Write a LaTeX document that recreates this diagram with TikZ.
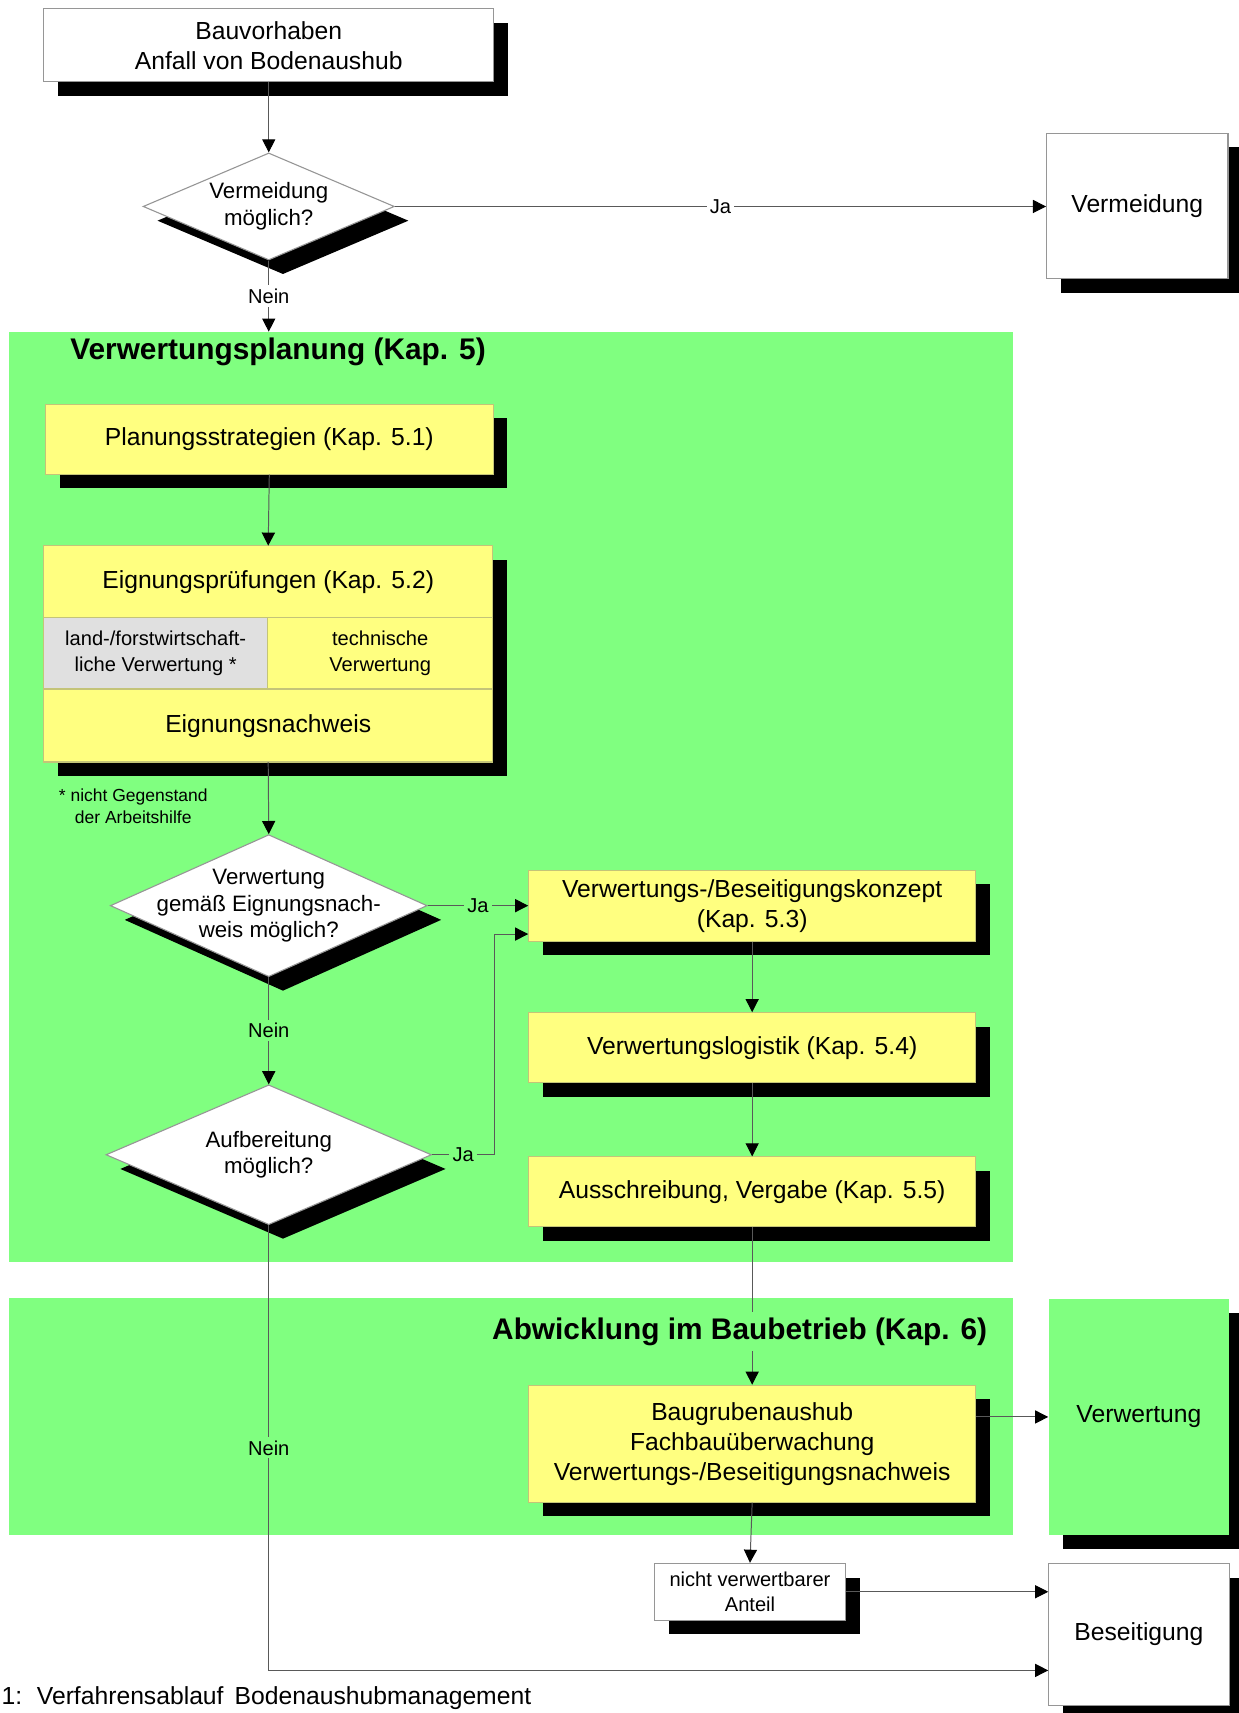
\documentclass[tikz,border=0pt]{standalone}
\usepackage{fontspec}
\setmainfont{Liberation Sans}
\usetikzlibrary{shapes,arrows.meta,positioning,shadows,calc}
\definecolor{gruen}{RGB}{128,255,128}
\definecolor{gelb}{RGB}{255,255,128}
\definecolor{grau}{RGB}{224,224,224}
\definecolor{rand}{RGB}{150,150,150}
\definecolor{gelbrand}{RGB}{196,196,120}
\newcommand{\schrift}{\fontsize{11.3}{13.75}\selectfont}
\newcommand{\rauteschrift}{\fontsize{10.2}{12.2}\selectfont}
\newcommand{\kleinschrift}{\fontsize{9.2}{11.5}\selectfont}
\newcommand{\titelschrift}{\fontsize{13.65}{16}\selectfont\bfseries}
\newcommand{\fussschrift}{\fontsize{8}{10}\selectfont}
\tikzstyle{schatten} = [drop shadow={shadow xshift=6.5pt, shadow yshift=-6.5pt, fill=black, opacity=1}]
\tikzstyle{kasten} = [rectangle, draw=rand, fill=white, line width=0.5pt, inner sep=2pt, align=center, font=\schrift, schatten]
\tikzstyle{gelbkasten} = [kasten, draw=gelbrand, fill=gelb]
\tikzstyle{zelle} = [rectangle, draw=gelbrand, fill=gelb, line width=0.5pt, outer sep=0pt, inner sep=2pt, align=center, font=\schrift]
\tikzstyle{raute} = [diamond, draw=rand, fill=white, line width=0.5pt, inner sep=0pt, schatten]
\tikzstyle{rautetext} = [align=center, font=\rauteschrift]
\tikzstyle{bereich} = [rectangle, fill=gruen, inner sep=0pt]
\tikzstyle{pfeil} = [draw=black!65, line width=0.45pt, -{Triangle[length=6pt,width=6pt,color=black]}]
\tikzstyle{marke} = [fill=gruen, inner sep=1.5pt, font=\kleinschrift]
\begin{document}
\begin{tikzpicture}[x=0.5pt, y=-0.5pt]
\useasboundingbox (0,0) rectangle (1134,1568);
% gruene Bereiche
\node[bereich, minimum width=459.5pt, minimum height=425.5pt] (p1) at (467.5,729.5) {};
\node[bereich, minimum width=459.5pt, minimum height=108.5pt] (p2) at (467.5,1296.5) {};

\node[kasten, minimum width=206pt, minimum height=33.5pt] (start) at (246,41.5) {Bauvorhaben\\Anfall von Bodenaushub};
\node[raute, minimum width=115pt, minimum height=49pt, label={[rautetext]center:Vermeidung\\möglich?}] (dec1) at (246,189) {};
\node[kasten, minimum width=83pt, minimum height=66.5pt] (verm) at (1041,188.5) {Vermeidung};

\node[gelbkasten, minimum width=205pt, minimum height=32pt] (plan) at (246.5,402) {Planungsstrategien (Kap. 5.1)};

% Eignungspruefungen
\node[gelbkasten, minimum width=205.5pt, minimum height=98.5pt] (eign) at (245.5,598.5) {};
\node[zelle, anchor=north, minimum width=205.5pt, minimum height=33pt] (eignkopf) at (eign.north) {Eignungsprüfungen (Kap. 5.2)};
\node[zelle, anchor=north west, fill=grau, font=\kleinschrift, minimum width=102.5pt, minimum height=32.5pt] (eignl) at (eignkopf.south west) {land-/forstwirtschaft-\\liche Verwertung *};
\node[zelle, anchor=north east, font=\kleinschrift, minimum width=103pt, minimum height=32.5pt] (eignr) at (eignkopf.south east) {technische\\Verwertung};
\node[zelle, anchor=south, minimum width=205.5pt, minimum height=33pt] (eignnw) at (eign.south) {Eignungsnachweis};
\node[align=center, font=\fussschrift] (fn) at (122,738) {* nicht Gegenstand\\der Arbeitshilfe};

\node[raute, minimum width=145pt, minimum height=65pt, label={[rautetext]center:Verwertung\\gemäß Eignungsnach-\\weis möglich?}] (dec2) at (246,829) {};
\node[raute, minimum width=149pt, minimum height=64pt, label={[rautetext]center:Aufbereitung\\möglich?}] (dec3) at (246,1057) {};

\node[gelbkasten, minimum width=204.5pt, minimum height=32.5pt] (k53) at (688.5,829) {Verwertungs-/Beseitigungskonzept\\(Kap. 5.3)};
\node[gelbkasten, minimum width=204.5pt, minimum height=32pt] (k54) at (688.5,959) {Verwertungslogistik (Kap. 5.4)};
\node[gelbkasten, minimum width=204.5pt, minimum height=32pt] (k55) at (688.5,1091) {Ausschreibung, Vergabe (Kap. 5.5)};

\node[gelbkasten, minimum width=204.5pt, minimum height=53.5pt] (bau) at (688.5,1321.5) {Baugrubenaushub\\Fachbauüberwachung\\Verwertungs-/Beseitigungsnachweis};
\node[kasten, draw=none, fill=gruen, minimum width=82.5pt, minimum height=108pt] (verw) at (1042.5,1297) {Verwertung};
\node[kasten, font=\kleinschrift, minimum width=87.5pt, minimum height=26pt] (nva) at (686.5,1457) {nicht verwertbarer\\Anteil};
\node[kasten, minimum width=82.5pt, minimum height=65pt] (bes) at (1042.5,1496) {Beseitigung};

\coordinate (k53ein) at ($(k53.west)+(0,26)$);
\coordinate (besein) at ($(bes.west)+(0,33)$);

% Verbindungen
\draw[pfeil] (start.south) -- (dec1.north);
\draw[pfeil] (dec1.east) -- node[marke, fill=white]{Ja} (dec1.east -| verm.west);
\draw[pfeil] (dec1.south) -- node[marke, fill=white]{Nein} (dec1.south |- p1.north);
\draw[pfeil] (plan.south) -- (eign.north);
\draw[pfeil] (eign.south) -- (dec2.north);
\draw[pfeil] (dec2.east) -- node[marke]{Ja} (dec2.east -| k53.west);
\draw[pfeil] (dec2.south) -- node[marke]{Nein} (dec3.north);
\draw[pfeil] (dec3.east) -- node[marke]{Ja} ++(57,0) |- (k53ein);
\draw[pfeil] (k53.south) -- (k54.north);
\draw[pfeil] (k54.south) -- (k55.north);
\draw[pfeil] (k55.south) -- (bau.north);
\draw[pfeil] (bau.east |- verw.west) -- (verw.west);
\draw[pfeil] (bau.south) -- (nva.north);
\draw[pfeil] (nva.east) -- (nva.east -| bes.west);
\draw[pfeil] (dec3.south) |- node[marke, pos=0.25]{Nein} (besein);

% Ueberschriften
\node[anchor=west, font=\titelschrift, fill=gruen, inner sep=1pt] (t1) at (62,322) {Verwertungsplanung (Kap. 5)};
\node[anchor=east, font=\titelschrift, fill=gruen, inner sep=2.5pt] (t2) at (909,1219) {Abwicklung im Baubetrieb (Kap. 6)};
\node[anchor=base west, font=\schrift, inner sep=0pt] (unterschrift) at (1,1560) {1:\hspace{0.6em}Verfahrensablauf\hspace{0.45em}Bodenaushubmanagement};
\end{tikzpicture}
\end{document}
